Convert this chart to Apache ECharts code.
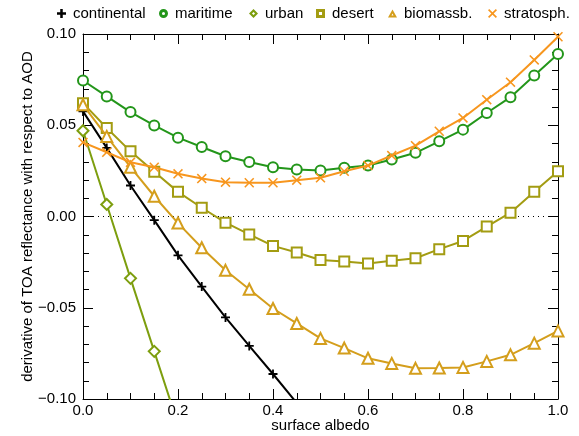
<!DOCTYPE html>
<html>
<head>
<meta charset="utf-8">
<script src="https://cdn.jsdelivr.net/npm/echarts@6/dist/echarts.min.js"></script>
<style>
  html, body { margin: 0; padding: 0; background: #fff; }
  #chart { width: 579px; height: 436px; }
</style>
</head>
<body>
<div id="chart"></div>
<script>
// Surface albedo grid (0 to 1 in steps of 0.05)
const albedo = [0.00, 0.05, 0.10, 0.15, 0.20, 0.25, 0.30, 0.35, 0.40, 0.45, 0.50,
                0.55, 0.60, 0.65, 0.70, 0.75, 0.80, 0.85, 0.90, 0.95, 1.00];

// d(TOA reflectance)/d(AOD) per aerosol type
const continental = [0.0576, 0.0376, 0.0170, -0.0020, -0.0213, -0.0384, -0.0553, -0.0709, -0.0863, -0.1022];
const maritime = [0.0745, 0.0658, 0.0572, 0.0499, 0.0432, 0.0381, 0.0330, 0.0299, 0.0270, 0.0257, 0.0252,
                  0.0267, 0.0279, 0.0312, 0.0349, 0.0412, 0.0476, 0.0567, 0.0654, 0.0772, 0.0891];
const urban = [0.0470, 0.0066, -0.0339, -0.0739, -0.1139];
const desert = [0.0621, 0.0485, 0.0357, 0.0245, 0.0135, 0.0048, -0.0034, -0.0098, -0.0161, -0.0197, -0.0238,
                -0.0247, -0.0257, -0.0243, -0.0229, -0.0179, -0.0134, -0.0055, 0.0021, 0.0136, 0.0248];
const biomassb = [0.0612, 0.0439, 0.0270, 0.0111, -0.0036, -0.0171, -0.0295, -0.0399, -0.0504, -0.0586, -0.0668,
                  -0.0721, -0.0777, -0.0805, -0.0832, -0.0830, -0.0827, -0.0794, -0.0758, -0.0694, -0.0627];
const stratosph = [0.0406, 0.0352, 0.0297, 0.0270, 0.0234, 0.0208, 0.0188, 0.0185, 0.0185, 0.0199, 0.0212,
                   0.0248, 0.0279, 0.0334, 0.0388, 0.0467, 0.0540, 0.0640, 0.0736, 0.0858, 0.0985];

const seriesNames = ['continental', 'maritime', 'urban', 'desert', 'biomassb.', 'stratosph.'];
const seriesValues = [continental, maritime, urban, desert, biomassb, stratosph];

const xTicks = [0.0, 0.2, 0.4, 0.6, 0.8, 1.0];
const yTicks = [-0.10, -0.05, 0.00, 0.05, 0.10];

// marker shapes
const PLUS = 'path://M4,0H6V4H10V6H6V10H4V6H0V4H4Z';
const CROSS = 'path://M0,1.1L1.1,0L5,3.9L8.9,0L10,1.1L6.1,5L10,8.9L8.9,10L5,6.1L1.1,10L0,8.9L3.9,5Z';

// compact legend glyphs: thick outlines with a small hole
const L_PLUS = 'path://M3.6,0H6.4V3.6H10V6.4H6.4V10H3.6V6.4H0V3.6H3.6Z';
const L_CIRCLE = 'path://M5,0A5,5,0,1,1,5,10A5,5,0,1,1,5,0Z M5,3.3A1.7,1.7,0,1,0,5,6.7A1.7,1.7,0,1,0,5,3.3Z';
const L_DIAMOND = 'path://M5,0L10,5L5,10L0,5Z M5,3.3L3.3,5L5,6.7L6.7,5Z';
const L_RECT = 'path://M0,0H10V10H0Z M3.3,3.3V6.7H6.7V3.3Z';
const L_TRI = 'path://M5,0L10,9L0,9Z M5,4.6L3.9,6.7H6.1Z';
const L_CROSS = 'path://M0,1.3L1.3,0L5,3.7L8.7,0L10,1.3L6.3,5L10,8.7L8.7,10L5,6.3L1.3,10L0,8.7L3.7,5Z';

const styles = [
  { color: '#000000', symbol: PLUS,           size: 9,  border: 0,   icon: L_PLUS,    legendLeft: 57 },
  { color: '#23961a', symbol: 'emptyCircle',   size: 10, border: 1.7, icon: L_CIRCLE,  legendLeft: 159 },
  { color: '#7d9e0e', symbol: 'emptyDiamond',  size: 11, border: 1.7, icon: L_DIAMOND, legendLeft: 249 },
  { color: '#a39c12', symbol: 'emptyRect',     size: 10, border: 1.7, icon: L_RECT,    legendLeft: 316 },
  { color: '#d49e1c', symbol: 'emptyTriangle', size: 11, border: 1.7, icon: L_TRI,     legendLeft: 388 },
  { color: '#f7961e', symbol: CROSS,           size: 10, border: 0,   icon: L_CROSS,   legendLeft: 488 }
];

const FONT = 'Liberation Sans, Arial, Helvetica, sans-serif';
const GRID = { left: 83, right: 21, top: 34, bottom: 37, outerBoundsMode: 'none', containLabel: false };

function pairs(vals) {
  return vals.map((v, i) => [albedo[i], v]);
}

function minusSign(s) { return s.replace('-', '\u2212'); }

const series = seriesValues.map((vals, k) => ({
  name: seriesNames[k],
  type: 'line',
  data: pairs(vals),
  symbol: styles[k].symbol,
  symbolSize: styles[k].size,
  showAllSymbol: true,
  clip: true,
  lineStyle: { color: styles[k].color, width: 2 },
  itemStyle: { color: styles[k].color, borderColor: styles[k].color, borderWidth: styles[k].border },
  emphasis: { disabled: true },
  z: 3 + k
}));

// dotted zero line
series.push({
  name: 'zero',
  type: 'line',
  data: [[0, 0], [1, 0]],
  symbol: 'none',
  lineStyle: { color: '#000', width: 1, type: [1, 4] },
  silent: true,
  z: 2
});

const legends = seriesNames.map((name, k) => ({
  left: styles[k].legendLeft,
  top: 6,
  padding: 0,
  itemWidth: 9,
  itemHeight: 9,
  selectedMode: false,
  data: [{ name: name, icon: styles[k].icon }],
  itemStyle: { color: styles[k].color, borderWidth: 0 },
  textStyle: { fontFamily: FONT, fontSize: 15, color: '#000', padding: [0, 0, 0, 2] }
}));

const axisCommon = {
  axisLine: { show: true, onZero: false, lineStyle: { color: '#000', width: 1 } },
  axisTick: { show: true, inside: true, length: 10, lineStyle: { color: '#000', width: 1 } },
  minorTick: { show: true, length: 6, lineStyle: { color: '#000', width: 1 } },
  splitLine: { show: false },
  minorSplitLine: { show: false }
};

const option = {
  animation: false,
  backgroundColor: '#fff',
  grid: GRID,
  legend: legends,
  xAxis: [
    Object.assign({}, axisCommon, {
      type: 'value', min: 0, max: 1, interval: 0.2, position: 'bottom',
      minorTick: Object.assign({}, axisCommon.minorTick, { splitNumber: 4 }),
      axisLabel: {
        fontFamily: FONT, fontSize: 15, color: '#000', margin: 4,
        formatter: v => v.toFixed(1)
      },
      name: 'surface albedo', nameLocation: 'middle', nameGap: 19,
      nameMoveOverlap: false,
      nameTextStyle: { fontFamily: FONT, fontSize: 15, color: '#000' }
    }),
    Object.assign({}, axisCommon, {
      type: 'value', min: 0, max: 1, interval: 0.2, position: 'top',
      minorTick: Object.assign({}, axisCommon.minorTick, { splitNumber: 4 }),
      axisLabel: { show: false }
    })
  ],
  yAxis: [
    Object.assign({}, axisCommon, {
      type: 'value', min: -0.1, max: 0.1, interval: 0.05, position: 'left',
      minorTick: Object.assign({}, axisCommon.minorTick, { splitNumber: 5 }),
      axisLabel: {
        fontFamily: FONT, fontSize: 15, color: '#000', margin: 7,
        formatter: v => minusSign(v.toFixed(2))
      },
      name: 'derivative of TOA reflectance with respect to AOD',
      nameLocation: 'middle', nameGap: 48,
      nameMoveOverlap: false,
      nameTextStyle: { fontFamily: FONT, fontSize: 15, color: '#000' }
    }),
    Object.assign({}, axisCommon, {
      type: 'value', min: -0.1, max: 0.1, interval: 0.05, position: 'right',
      minorTick: Object.assign({}, axisCommon.minorTick, { splitNumber: 5 }),
      axisLabel: { show: false }
    })
  ],
  series: series
};

const chart = echarts.init(document.getElementById('chart'), null, { renderer: 'canvas' });
chart.setOption(option);
</script>
</body>
</html>
